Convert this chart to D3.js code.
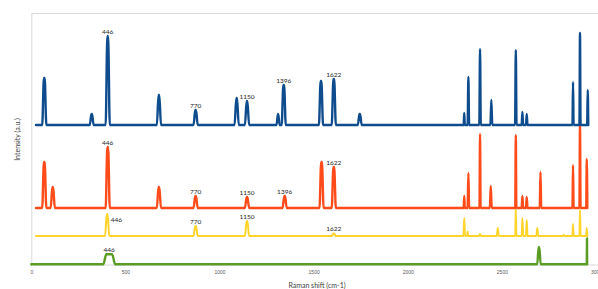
<!DOCTYPE html>
<html lang="en">
<head>
    <meta charset="UTF-8">
    <title>Raman spectra</title>
    <script src="https://d3js.org/d3.v7.min.js"></script>
    <style>
        body {
            margin: 0;
            background-color: #ffffff;
            overflow: hidden;
        }

        svg {
            display: block;
            font-family: Lato, 'Liberation Sans', sans-serif;
        }

        .frame {
            stroke: #d9d9d9;
            stroke-width: 1px;
        }

        .axis text {
            font-size: 5px;
            fill: #595959;
        }

        .axis path {
            stroke: #d9d9d9;
        }

        .spectrum {
            fill: none;
            stroke-linejoin: round;
            stroke-linecap: round;
        }

        .peak-label {
            font-size: 6.5px;
            fill: #262626;
            text-anchor: middle;
        }

        .axis-title {
            font-size: 7px;
            fill: #404040;
            text-anchor: middle;
        }
    </style>
</head>
<body>
    <svg width="598" height="289"></svg>

    <script>
        // x ticks (Raman shift, cm-1)
        const xTicks = [0, 500, 1000, 1500, 2000, 2500, 3000];

        // spectra: [shift, height above baseline, half width at base, half width of the top]
        const bluePeaks = [[69, 47, 11, 2], [321, 11, 10, 2], [406, 89, 11, 2], [678, 30, 11, 2], [873, 15, 11, 2],
            [1091, 27, 11, 2], [1146, 24, 11, 2], [1311, 11, 8, 1], [1341, 40, 11, 2], [1539, 44, 11, 2], [1607, 46, 11, 2],
            [1745, 11, 10, 2], [2300, 12, 3], [2322, 48, 4], [2384, 76, 4], [2444, 25, 5], [2574, 75, 4],
            [2609, 13, 4], [2632, 11, 4], [2878, 43, 3], [2915, 92, 3], [2956, 35, 3]];
        const redPeaks = [[69, 46, 11, 2], [114, 21, 11, 2], [406, 61, 11, 2], [678, 21, 11, 2], [873, 12, 11, 2],
            [1146, 11, 11, 2], [1346, 12, 11, 2], [1542, 46, 11, 2], [1607, 41, 11, 2], [2300, 12, 3], [2322, 35, 4],
            [2384, 74, 3], [2441, 22, 5], [2574, 73, 3], [2609, 12, 4], [2632, 11, 4], [2705, 36, 4],
            [2878, 43, 3], [2915, 88, 3], [2951, 49, 3]];
        const yellowPeaks = [[403, 22, 11, 2], [873, 10, 11, 2], [1146, 15, 11, 2], [1607, 2.5, 11, 2], [2300, 18, 4],
            [2318, 4.5, 3], [2384, 2, 5], [2478, 8, 5], [2574, 27, 3], [2609, 18, 4], [2632, 16, 4],
            [2688, 8, 5], [2828, 1, 5], [2878, 12, 3], [2915, 26, 3], [2951, 8, 3]];
        const greenPeaks = [[414, 10, 31, 16], [2697, 17, 9, 2], [2952, 26, 1]];

        // vertical offsets of the stacked spectra and where each trace begins
        const offsets = { blue: 140, red: 57, yellow: 29, green: 0.7 };
        const starts = { blue: 25, red: 25, yellow: 25, green: 0 };

        // peak annotations: [text, shift of the peak]
        const blueLabels = [["446", 406], ["770", 873], ["1150", 1146], ["1396", 1341], ["1622", 1607]];
        const redLabels = [["446", 406], ["770", 873], ["1150", 1146], ["1396", 1346], ["1622", 1607]];
        const yellowLabels = [["446", 403], ["770", 873], ["1150", 1146], ["1622", 1607]];
        const greenLabels = [["446", 414]];

        const series = [
            { name: "green", peaks: greenPeaks, labels: greenLabels, color: "#5b9d24", width: 2.4 },
            { name: "yellow", peaks: yellowPeaks, labels: yellowLabels, color: "#ffd42a", width: 2 },
            { name: "red", peaks: redPeaks, labels: redLabels, color: "#ff4a1a", width: 2.4 },
            { name: "blue", peaks: bluePeaks, labels: blueLabels, color: "#0e4c8e", width: 2.4 }
        ];

        const svg = d3.select("svg");

        const x = d3.scaleLinear().domain([0, 3000]).range([31.3, 596]);
        const y = d3.scaleLinear().domain([0, 252]).range([265, 13]);

        // frame: top border
        svg.append("line")
            .attr("class", "frame")
            .attr("x1", x(0)).attr("x2", 598)
            .attr("y1", y(252) + 0.5).attr("y2", y(252) + 0.5);

        // left axis (no ticks)
        svg.append("g")
            .attr("class", "axis")
            .attr("transform", `translate(${x(0)},0)`)
            .call(d3.axisLeft(y).tickValues([]).tickSizeOuter(0));

        // bottom axis
        svg.append("g")
            .attr("class", "axis")
            .attr("transform", `translate(0,${y(0)})`)
            .call(d3.axisBottom(x).tickValues(xTicks).tickSize(0).tickPadding(5).tickFormat(d3.format("d")))
            .call(g => g.select(".domain").attr("d", `M${x(0)},0H598`));

        // turn each peak list into the outline of a spectrum
        function tracePoints(s) {
            const pts = [[starts[s.name], 0]];
            s.peaks.forEach(([c, h, w, t]) => {
                pts.push([c - w, 0]);
                if (t) {
                    pts.push([c - t, h], [c + t, h]);
                } else {
                    pts.push([c, h]);
                }
                pts.push([c + w, 0]);
            });
            return pts;
        }

        const line = d3.line()
            .x(d => x(d[0]))
            .y(d => d.y)
            .curve(d3.curveMonotoneX);

        series.forEach(s => {
            const off = offsets[s.name];
            const pts = tracePoints(s).map(p => ({ 0: p[0], y: y(off + p[1]) }));
            svg.append("path")
                .attr("class", "spectrum")
                .attr("d", line(pts))
                .attr("stroke", s.color)
                .attr("stroke-width", s.width);
        });

        // peak labels
        series.forEach(s => {
            const off = offsets[s.name];
            s.labels.forEach(([txt, pos]) => {
                const pk = s.peaks.find(p => p[0] === pos);
                const top = y(off + pk[1]);
                const beside = s.name === "yellow" && txt === "446";
                svg.append("text")
                    .attr("class", "peak-label")
                    .attr("x", beside ? x(pos) + 3.5 : x(pos))
                    .attr("y", beside ? top + 7.5 : top - 2.5)
                    .style("text-anchor", beside ? "start" : "middle")
                    .text(txt);
            });
        });

        // axis titles
        svg.append("text")
            .attr("class", "axis-title")
            .attr("transform", `translate(19.5,${(y(0) + y(252)) / 2 + 0.5}) rotate(-90)`)
            .text("Intensity (a.u.)");

        svg.append("text")
            .attr("class", "axis-title")
            .attr("x", 317)
            .attr("y", 287.5)
            .text("Raman shift (cm-1)");
    </script>
</body>
</html>
